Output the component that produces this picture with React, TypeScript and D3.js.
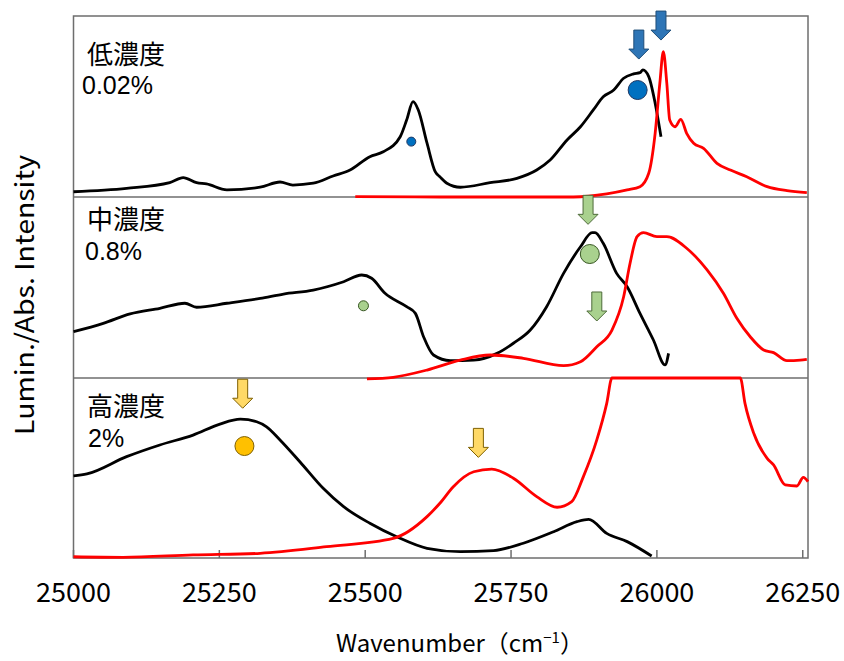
import React from 'react';
import * as d3 from 'd3';

type P = [number, number];

const xTicks = [25000, 25250, 25500, 25750, 26000, 26250];

// Panel 1 (低濃度 0.02%)
const lowAbs: P[] = [
  [25000, 0.029], [25091, 0.048], [25165, 0.079], [25188, 0.107], [25211, 0.079], [25228, 0.072],
  [25263, 0.039], [25320, 0.054], [25354, 0.083], [25376, 0.066], [25411, 0.076], [25445, 0.116],
  [25474, 0.149], [25508, 0.223], [25531, 0.25], [25560, 0.333], [25571, 0.425], [25582, 0.527],
  [25591, 0.481], [25606, 0.297], [25620, 0.14], [25628, 0.112], [25640, 0.076], [25663, 0.054],
  [25714, 0.079], [25760, 0.103], [25794, 0.149], [25817, 0.204], [25846, 0.315], [25869, 0.388],
  [25891, 0.481], [25908, 0.554], [25926, 0.591], [25943, 0.656], [25960, 0.68], [25971, 0.687],
  [25976, 0.702], [25986, 0.665], [25997, 0.518], [26007, 0.333],
];
const lowLum: P[] = [
  [25483, 0.002], [25628, 0.0], [25857, 0.0], [25914, 0.017], [25949, 0.039], [25971, 0.057],
  [25986, 0.131], [25997, 0.352], [26005, 0.628], [26011, 0.803], [26017, 0.628], [26022, 0.425],
  [26031, 0.388], [26041, 0.429], [26051, 0.352], [26063, 0.297], [26080, 0.269], [26103, 0.186],
  [26126, 0.149], [26154, 0.112], [26189, 0.057], [26223, 0.035], [26257, 0.024],
];

// Panel 2 (中濃度 0.8%)
const midAbs: P[] = [
  [25000, 0.256], [25051, 0.302], [25097, 0.354], [25148, 0.385], [25191, 0.413], [25211, 0.391],
  [25263, 0.413], [25320, 0.44], [25360, 0.464], [25411, 0.486], [25463, 0.532], [25494, 0.569],
  [25511, 0.551], [25534, 0.468], [25571, 0.394], [25586, 0.357], [25600, 0.228], [25617, 0.127],
  [25646, 0.096], [25686, 0.099], [25726, 0.136], [25754, 0.192], [25783, 0.265], [25811, 0.394],
  [25840, 0.578], [25869, 0.725], [25889, 0.803], [25894, 0.803], [25908, 0.744], [25931, 0.578],
  [25949, 0.504], [25971, 0.357], [25994, 0.21], [26014, 0.072], [26020, 0.136],
];
const midLum: P[] = [
  [25503, -0.005], [25548, 0.004], [25606, 0.044], [25663, 0.099], [25714, 0.127], [25771, 0.109],
  [25840, 0.068], [25869, 0.09], [25897, 0.173], [25923, 0.265], [25943, 0.449], [25954, 0.634],
  [25966, 0.781], [25977, 0.803], [26000, 0.781], [26017, 0.781], [26051, 0.717], [26086, 0.597],
  [26114, 0.468], [26137, 0.33], [26160, 0.228], [26183, 0.155], [26200, 0.14], [26223, 0.096],
  [26246, 0.099], [26257, 0.103],
];

// Panel 3 (高濃度 2%)
const highAbs: P[] = [
  [25000, 0.456], [25023, 0.467], [25091, 0.563], [25148, 0.628], [25205, 0.683], [25251, 0.744],
  [25286, 0.771], [25314, 0.757], [25331, 0.729], [25354, 0.656], [25388, 0.535], [25428, 0.387],
  [25463, 0.285], [25508, 0.193], [25554, 0.118], [25606, 0.054], [25663, 0.035], [25720, 0.041],
  [25771, 0.082], [25823, 0.146], [25863, 0.202], [25883, 0.215], [25914, 0.137], [25949, 0.091],
  [25991, 0.011],
];
const highLum: P[] = [
  [25000, 0.007], [25085, 0.004], [25205, 0.017], [25320, 0.026], [25434, 0.063], [25548, 0.109],
  [25606, 0.23], [25628, 0.304], [25651, 0.396], [25686, 0.479], [25717, 0.494], [25754, 0.443],
  [25794, 0.341], [25829, 0.282], [25854, 0.313], [25874, 0.452], [25897, 0.656], [25914, 0.859],
  [25923, 1.0], [26143, 1.0], [26151, 0.859], [26166, 0.693], [26189, 0.554], [26200, 0.517],
  [26220, 0.406], [26240, 0.4], [26251, 0.448], [26259, 0.424],
];

// markers: [wavenumber, intensity]
const lowCircles: P[] = [[25579, 0.306], [25967, 0.591]];
const lowArrows: P[] = [[25969, 0.762], [26007, 0.867]];
const midCircles: P[] = [[25497, 0.399], [25885, 0.685]];
const midArrows: P[] = [[25882, 0.849], [25897, 0.315]];
const highCircles: P[] = [[25293, 0.622]];
const highArrows: P[] = [[25290, 0.832], [25694, 0.559]];

const panelNames = ['低濃度', '中濃度', '高濃度'];
const panelConc = ['0.02%', '0.8%', '2%'];

const X0 = 73.5, X1 = 808;
const panels = [
  { top: 16, bottom: 197, abs: lowAbs, lum: lowLum, circles: lowCircles, radii: [4.5, 9.5], arrows: lowArrows,
    fill: '#0070C0', stroke: '#1F3864', arrowFill: '#2E75B6', arrowStroke: '#1F4E79',
    nameY: 64, nameX: 87, concY: 94, concX: 82 },
  { top: 197, bottom: 378, abs: midAbs, lum: midLum, circles: midCircles, radii: [5, 9.5], arrows: midArrows,
    fill: '#A9D18E', stroke: '#385723', arrowFill: '#A9D18E', arrowStroke: '#4E6B3A',
    nameY: 229, nameX: 87, concY: 260, concX: 85 },
  { top: 378, bottom: 558, abs: highAbs, lum: highLum, circles: highCircles, radii: [9.5], arrows: highArrows,
    fill: '#FFC000', stroke: '#7F6000', arrowFill: '#FFD966', arrowStroke: '#7F6000',
    nameY: 416, nameX: 87, concY: 447, concX: 88 },
];

const arrowPath = (x: number, y: number) =>
  `M${x - 5},${y - 29} L${x + 5},${y - 29} L${x + 5},${y - 10} L${x + 10},${y - 10} L${x},${y} L${x - 10},${y - 10} L${x - 5},${y - 10} Z`;

export default function App() {
  const x = d3.scaleLinear().domain([25000, 26259]).range([X0, X1]);
  const border = '#6E6E6E';
  return (
    <svg width={844} height={661} style={{ position: 'absolute', left: 0, top: 0, background: '#fff' }}>
      <rect x={0} y={0} width={844} height={661} fill="#fff" />
      <rect x={X0} y={16} width={X1 - X0} height={558 - 16} fill="none" stroke={border} strokeWidth={1.5} />
      <line x1={X0} x2={X1} y1={197} y2={197} stroke={border} strokeWidth={1.5} />
      <line x1={X0} x2={X1} y1={378} y2={378} stroke={border} strokeWidth={1.5} />
      {xTicks.map((t) => (
        <g key={t}>
          <line x1={x(t)} x2={x(t)} y1={558} y2={550} stroke={border} strokeWidth={1.5} />
          <text x={x(t)} y={602} textAnchor="middle" fontFamily="'Noto Sans CJK JP', sans-serif" fontSize={27} fill="#000">
            {t}
          </text>
        </g>
      ))}
      {panels.map((p, i) => {
        const y = d3.scaleLinear().domain([0, 1]).range([p.bottom, p.top]);
        const line = d3.line<P>().x((d) => x(d[0])).y((d) => y(d[1])).curve(d3.curveMonotoneX);
        return (
          <g key={i}>
            <path d={line(p.abs) || ''} fill="none" stroke="#000" strokeWidth={2.8} strokeLinejoin="round" />
            <path d={line(p.lum) || ''} fill="none" stroke="#FF0000" strokeWidth={2.8} strokeLinejoin="round" />
            {p.circles.map((c, j) => (
              <circle key={j} cx={x(c[0])} cy={y(c[1])} r={p.radii[j]} fill={p.fill} stroke={p.stroke} strokeWidth={1} />
            ))}
            {p.arrows.map((a, j) => (
              <path key={j} d={arrowPath(x(a[0]), y(a[1]))} fill={p.arrowFill} stroke={p.arrowStroke} strokeWidth={1} />
            ))}
            <text x={p.nameX} y={p.nameY} fontFamily="'Noto Sans CJK JP', sans-serif" fontSize={26} fill="#000">
              {panelNames[i]}
            </text>
            <text x={p.concX} y={p.concY} fontFamily="'Liberation Sans', Arial, sans-serif" fontSize={25} fill="#000">
              {panelConc[i]}
            </text>
          </g>
        );
      })}
      <text x={460} y={652} textAnchor="middle" fontFamily="'Noto Sans CJK JP', sans-serif" fontSize={24} fill="#000">
        Wavenumber（cm<tspan dy={-9} fontSize={15}>−1</tspan><tspan dy={9}>）</tspan>
      </text>
      <text transform="translate(34,295) rotate(-90)" textAnchor="middle" fontFamily="'Noto Sans CJK JP', sans-serif"
        fontSize={26} textLength={280} lengthAdjust="spacingAndGlyphs" fill="#000">
        Lumin./Abs. Intensity
      </text>
    </svg>
  );
}
